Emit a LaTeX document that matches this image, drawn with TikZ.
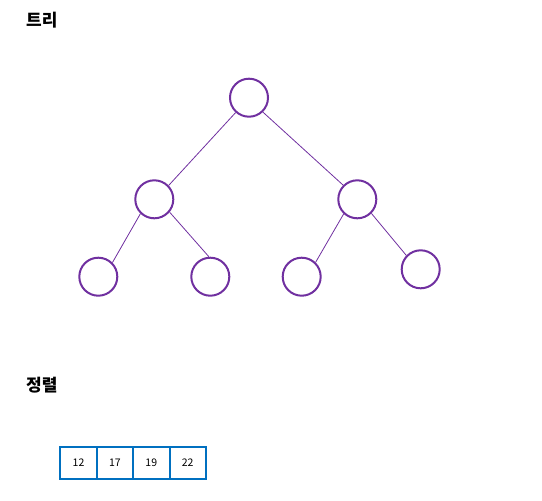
\documentclass[tikz,border=0pt]{standalone}
\usepackage{fontspec}
\setmainfont{Noto Sans CJK KR}
\usetikzlibrary{positioning}
\definecolor{treepurple}{RGB}{112,48,160}
\definecolor{boxblue}{RGB}{0,112,192}

\begin{document}
\begin{tikzpicture}[x=1pt,y=-1pt,
    treenode/.style={circle,draw=treepurple,line width=2pt,minimum size=38pt,inner sep=0pt},
    treeedge/.style={draw=treepurple,line width=0.8pt},
    cell/.style={draw=boxblue,line width=2pt,minimum width=36.4pt,minimum height=32.3pt,
      inner sep=0pt,outer sep=0pt,font=\fontsize{10.5}{12}\selectfont},
    title/.style={font=\bfseries\fontsize{17}{20}\selectfont,anchor=west,inner sep=0pt}]
	%%%%% START %%%%%
	\useasboundingbox (0,0) rectangle (542,501);
	
	\node[title] (treetitle) at (26, 20) {트리};
	
	\node[treenode] (root) at (249, 97.7) {};
	\node[treenode] (midleft) at (154.3, 199.3) {};
	\node[treenode] (midright) at (357.3, 199.3) {};
	\node[treenode] (leafa) at (98.3, 276.7) {};
	\node[treenode] (leafb) at (210.3, 276.7) {};
	\node[treenode] (leafc) at (301.7, 276.7) {};
	\node[treenode] (leafd) at (420.7, 269.3) {};
	
	\draw[treeedge] (root.228) -- (midleft.44);
	\draw[treeedge] (root.314) -- (midright.135);
	\draw[treeedge] (midleft.226) -- (leafa.45);
	\draw[treeedge] (midleft.320) -- (leafb.94);
	\draw[treeedge] (midright.227) -- (leafc.46);
	\draw[treeedge] (midright.315) -- (leafd.136);
	
	\node[title] (sorttitle) at (26, 385) {정렬};
	
	\node[cell] (cella) at (78.5, 462.8) {12};
	\node[cell, right=0pt of cella] (cellb) {17};
	\node[cell, right=0pt of cellb] (cellc) {19};
	\node[cell, right=0pt of cellc] (celld) {22};
	
	%%%%% END %%%%%
\end{tikzpicture}
\end{document}
